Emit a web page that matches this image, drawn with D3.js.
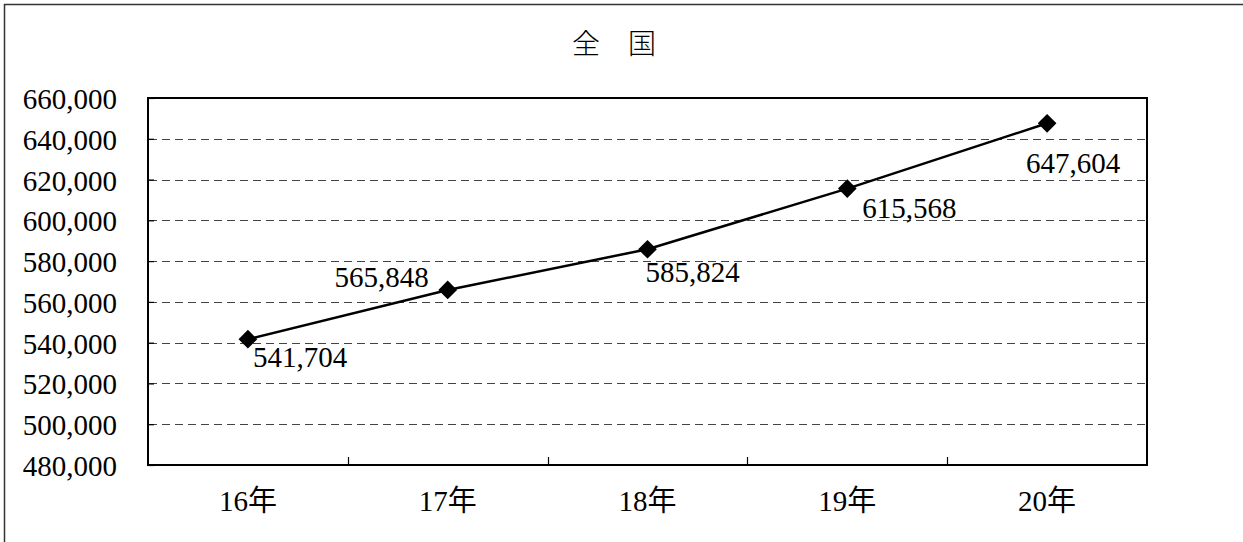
<!DOCTYPE html>
<html>
<head>
<meta charset="utf-8">
<script src="https://cdn.jsdelivr.net/npm/d3@7/dist/d3.min.js"></script>
<style>
  html, body { margin: 0; padding: 0; background: #fff; }
  svg { display: block; }
  .num { font-family: "Liberation Serif", "Noto Sans CJK JP", serif; font-size: 29px; fill: #000; }
</style>
</head>
<body>
<svg id="chart" width="1243" height="542"></svg>
<script>
// 全国の推移（各年）
const title = "全\u3000国";
const categories = ["16年", "17年", "18年", "19年", "20年"];
const values = [541704, 565848, 585824, 615568, 647604];
const yTicks = [480000, 500000, 520000, 540000, 560000, 580000, 600000, 620000, 640000, 660000];

// hand-placed offsets of each value label relative to its marker: [dx, dy, anchor]
const labelOffsets = [[5, 28, "start"], [-19, -3, "end"], [-2, 33, "start"], [15, 29, "start"], [-21, 50, "start"]];

const svg = d3.select("#chart");
const W = 1243, H = 542;
const plot = { left: 148, right: 1147, top: 98, bottom: 465 };

// outer chart border (only top and left edges fall inside the view)
svg.append("rect")
  .attr("x", 4.5).attr("y", 4.5)
  .attr("width", W + 20).attr("height", H + 20)
  .attr("fill", "#fff").attr("stroke", "#333").attr("stroke-width", 1.5);

svg.append("text")
  .attr("x", 614).attr("y", 42)
  .attr("text-anchor", "middle").attr("dominant-baseline", "central")
  .style("font-family", "'Noto Sans CJK JP', sans-serif")
  .style("font-size", "28px").style("font-weight", 300)
  .text(title);

const x = d3.scaleBand().domain(categories).range([plot.left, plot.right]).padding(0);
const y = d3.scaleLinear().domain([yTicks[0], yTicks[yTicks.length - 1]]).range([plot.bottom, plot.top]);

// dashed gridlines
svg.append("g").selectAll("line")
  .data(yTicks.slice(1, -1))
  .join("line")
  .attr("x1", plot.left + 1).attr("x2", plot.right)
  .attr("y1", d => Math.round(y(d)) + 0.5).attr("y2", d => Math.round(y(d)) + 0.5)
  .attr("stroke", "#444").attr("stroke-width", 1)
  .attr("stroke-dasharray", "8,5");

// y axis: ticks point into the plot
const yAxis = svg.append("g")
  .attr("transform", `translate(${plot.left},0)`)
  .call(d3.axisLeft(y).tickValues(yTicks).tickSize(-6).tickPadding(31)
    .tickFormat(d3.format(",")));
yAxis.select(".domain").remove();
yAxis.selectAll(".tick line").attr("stroke", "#000").attr("stroke-width", 1.2);
yAxis.selectAll("text").attr("class", "num").attr("dy", "0.36em");

// x axis labels
const xAxis = svg.append("g")
  .attr("transform", `translate(0,${plot.bottom})`)
  .call(d3.axisBottom(x).tickSize(0).tickPadding(25));
xAxis.select(".domain").remove();
xAxis.selectAll("text").attr("class", "num");

// category boundary ticks on the bottom edge
svg.append("g").selectAll("line")
  .data(categories.slice(1))
  .join("line")
  .attr("x1", d => Math.round(x(d)) + 0.5).attr("x2", d => Math.round(x(d)) + 0.5)
  .attr("y1", plot.bottom - 8).attr("y2", plot.bottom)
  .attr("stroke", "#000").attr("stroke-width", 1.2);

// plot frame
svg.append("rect")
  .attr("x", plot.left).attr("y", plot.top)
  .attr("width", plot.right - plot.left).attr("height", plot.bottom - plot.top)
  .attr("fill", "none").attr("stroke", "#000").attr("stroke-width", 2);

const pts = categories.map((c, i) => ({ c, v: values[i], i }));
const cx = d => x(d.c) + x.bandwidth() / 2;

svg.append("path")
  .datum(pts)
  .attr("fill", "none").attr("stroke", "#000").attr("stroke-width", 2.5)
  .attr("d", d3.line().x(cx).y(d => y(d.v)));

svg.append("g").selectAll("path")
  .data(pts)
  .join("path")
  .attr("transform", d => `translate(${cx(d)},${y(d.v)}) rotate(45)`)
  .attr("d", d3.symbol().type(d3.symbolSquare).size(175))
  .attr("fill", "#000");

svg.append("g").selectAll("text")
  .data(pts)
  .join("text")
  .attr("class", "num")
  .attr("x", d => cx(d) + labelOffsets[d.i][0])
  .attr("y", d => y(d.v) + labelOffsets[d.i][1])
  .attr("text-anchor", d => labelOffsets[d.i][2])
  .text(d => d3.format(",")(d.v));
</script>
</body>
</html>
